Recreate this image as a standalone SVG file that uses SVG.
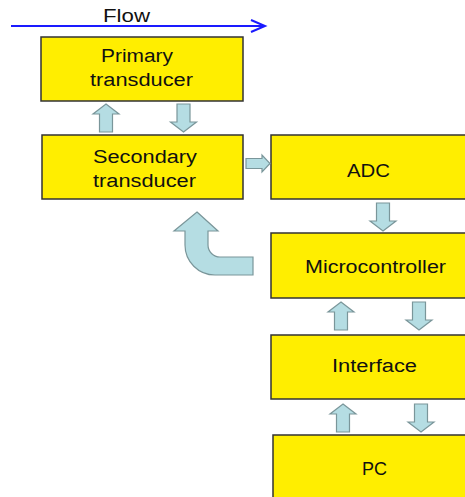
<svg xmlns="http://www.w3.org/2000/svg" width="465" height="497" viewBox="0 0 465 497">
<style>
.box{fill:#ffee00;stroke:#333333;stroke-width:1.5}
.lbl{font-family:"Liberation Sans",Arial,sans-serif;font-size:18px;fill:#111111;text-anchor:middle}
.ba{fill:#b5dde3;stroke:#7a969a;stroke-width:1.2;stroke-linejoin:miter}
</style>
<defs>
<path id="up" d="M0,0 L13,10 L6.5,10 L6.5,28 L-6.5,28 L-6.5,10 L-13,10 Z"/>
<path id="down" d="M0,28 L13,18 L6.5,18 L6.5,0 L-6.5,0 L-6.5,18 L-13,18 Z"/>
</defs>
<rect width="465" height="497" fill="#ffffff"/>
<g id="flow">
<line x1="11" y1="26" x2="265" y2="26" stroke="#1a1aff" stroke-width="2"/>
<polyline points="251,20 265,26 251,32" fill="none" stroke="#1a1aff" stroke-width="2"/>
<text class="lbl" x="126.5" y="22" textLength="47" lengthAdjust="spacingAndGlyphs">Flow</text>
</g>
<g id="primary">
<rect class="box" x="41" y="37" width="202" height="64"/>
<text class="lbl" x="137" y="62" textLength="72" lengthAdjust="spacingAndGlyphs">Primary</text>
<text class="lbl" x="141.5" y="86" textLength="103" lengthAdjust="spacingAndGlyphs">transducer</text>
</g>
<g id="secondary">
<rect class="box" x="42" y="135" width="201" height="64"/>
<text class="lbl" x="145" y="163" textLength="104" lengthAdjust="spacingAndGlyphs">Secondary</text>
<text class="lbl" x="144.5" y="187" textLength="103" lengthAdjust="spacingAndGlyphs">transducer</text>
</g>
<g id="adc">
<rect class="box" x="271" y="135" width="200" height="64"/>
<text class="lbl" x="368.5" y="177" textLength="43" lengthAdjust="spacingAndGlyphs">ADC</text>
</g>
<g id="microcontroller">
<rect class="box" x="271" y="233" width="200" height="65"/>
<text class="lbl" x="375.5" y="273" textLength="141" lengthAdjust="spacingAndGlyphs">Microcontroller</text>
</g>
<g id="interface">
<rect class="box" x="271" y="335" width="200" height="64"/>
<text class="lbl" x="374.5" y="372" textLength="85" lengthAdjust="spacingAndGlyphs">Interface</text>
</g>
<g id="pc">
<rect class="box" x="273" y="435" width="200" height="70"/>
<text class="lbl" x="374.5" y="475" textLength="25" lengthAdjust="spacingAndGlyphs">PC</text>
</g>
<g id="connectors">
<use href="#up" class="ba" transform="translate(106,104)"/>
<use href="#down" class="ba" transform="translate(183.5,104)"/>
<path class="ba" d="M246,158.5 L262,158.5 L262,155 L270,163.5 L262,172 L262,168.5 L246,168.5 Z"/>
<use href="#down" class="ba" transform="translate(383,203)"/>
<path class="ba" d="M197,212 L218,231 L208,231 L208,245 A12,12 0 0 0 220,257 L253,257 L253,275 L215,275 A30,30 0 0 1 185,245 L185,231 L174,231 Z"/>
<use href="#up" class="ba" transform="translate(341,302)"/>
<use href="#down" class="ba" transform="translate(419,302)"/>
<use href="#up" class="ba" transform="translate(343,404)"/>
<use href="#down" class="ba" transform="translate(421,404)"/>
</g>
</svg>
